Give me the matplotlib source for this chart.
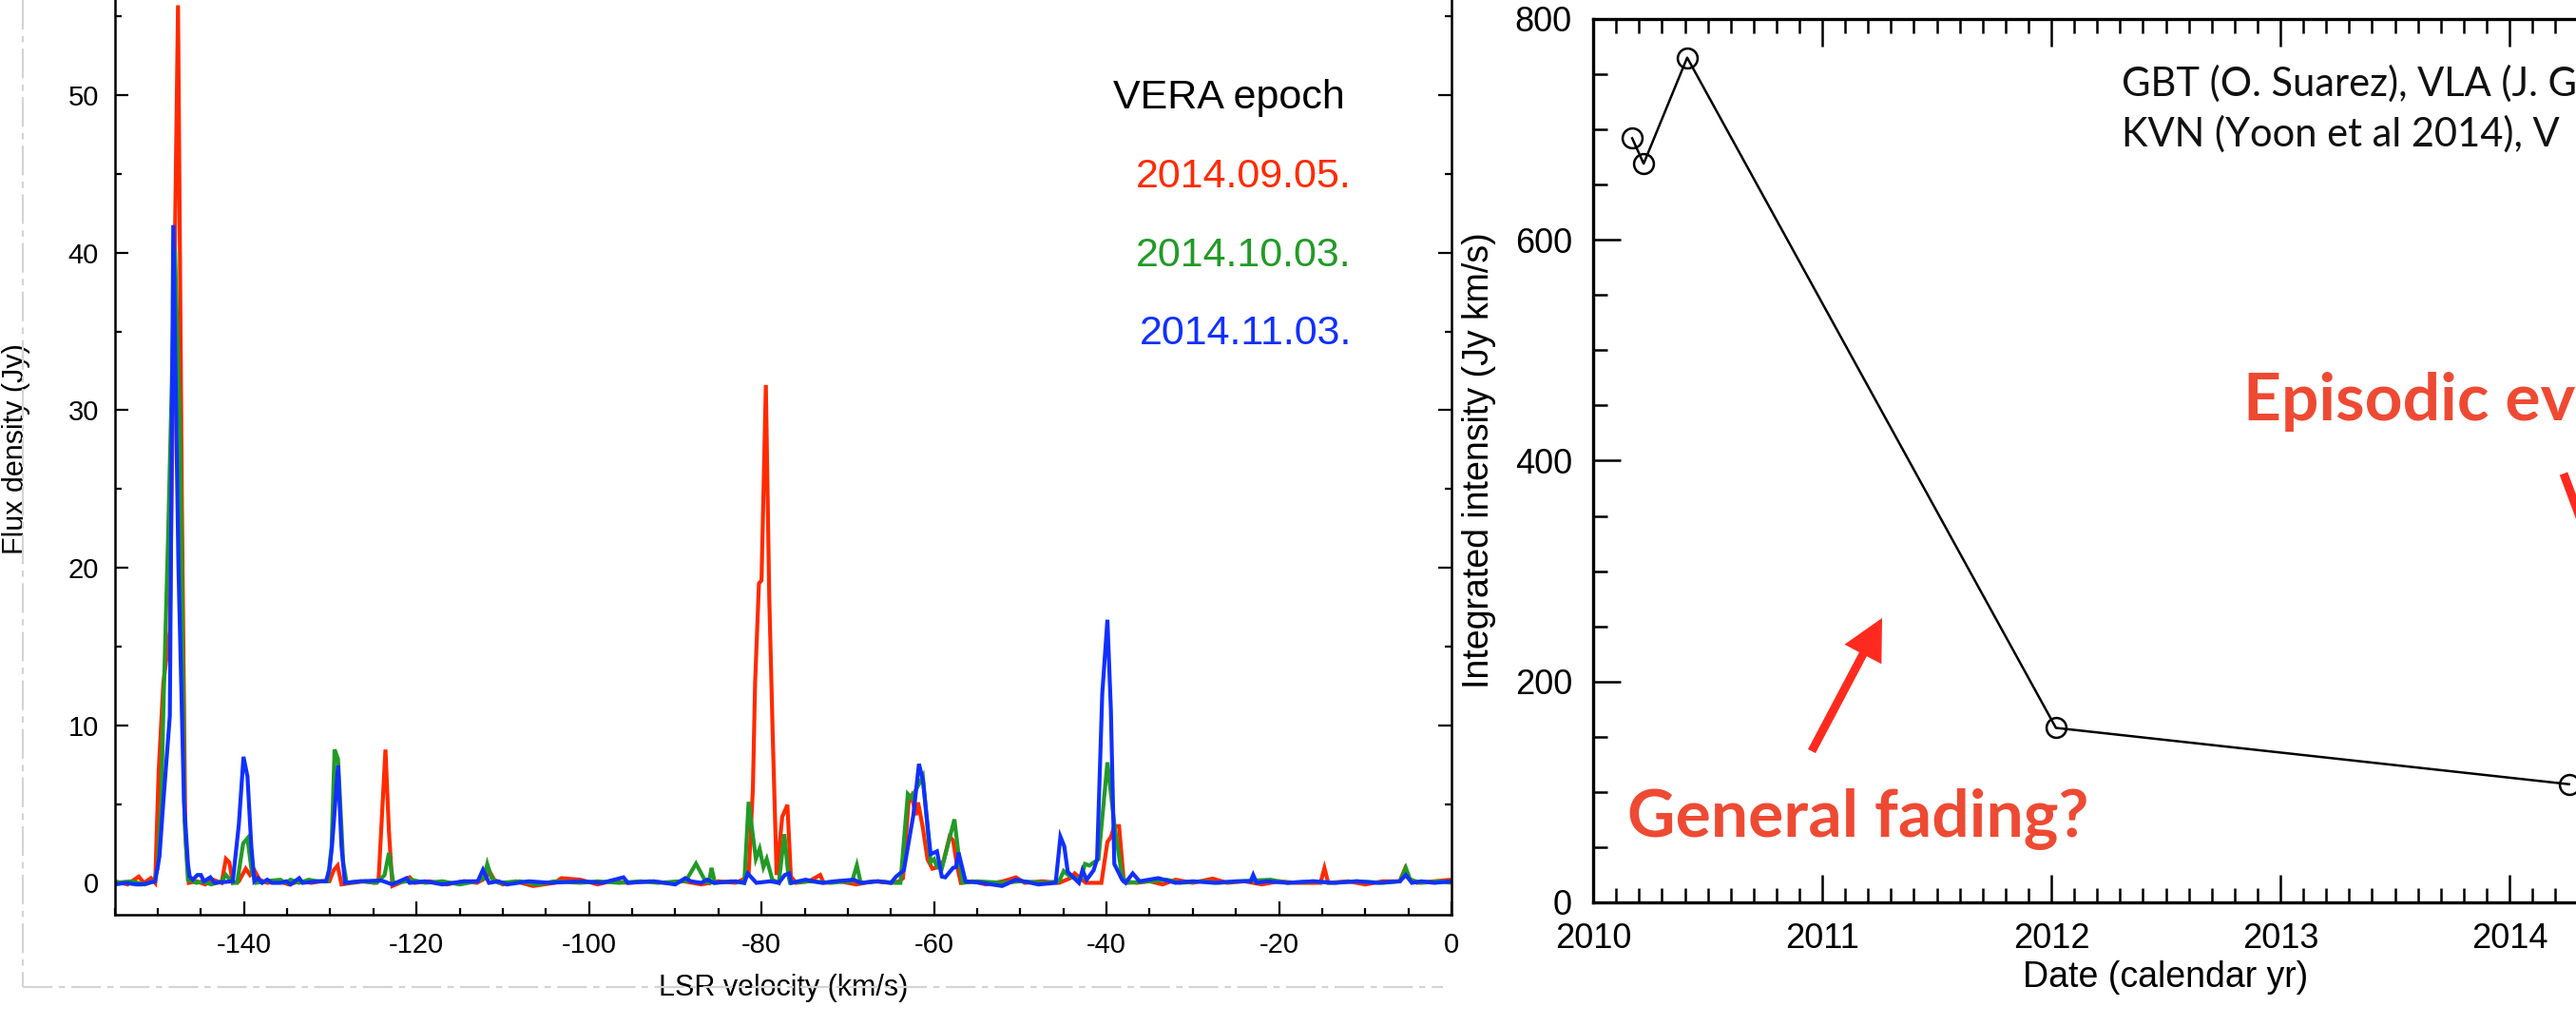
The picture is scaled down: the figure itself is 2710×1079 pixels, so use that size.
"""Water maser spectra (VERA) and integrated intensity history, two panels."""

import matplotlib

matplotlib.use("Agg")
import matplotlib.pyplot as plt
from matplotlib.lines import Line2D
from matplotlib.patches import FancyArrow
from matplotlib.ticker import MultipleLocator

plt.rcParams["font.family"] = ["Liberation Sans", "DejaVu Sans"]
plt.rcParams["axes.unicode_minus"] = False

# ---- left panel: spectra (LSR velocity km/s, flux density Jy) ----
VEL_RED = [-155.0, -153.5, -152.2, -151.6, -150.8, -150.3, -149.9, -149.6, -149.36, -148.6,
           -147.65, -147.2, -146.8, -146.4, -145.5, -144.5, -143.6, -142.6, -142.1, -141.7,
           -141.3, -140.6, -139.8, -139.3, -138.8, -138.2, -137.3, -136.0, -134.8, -133.5,
           -132.2, -131.0, -130.1, -129.6, -129.15, -128.7, -127.5, -126.0, -124.9, -124.4,
           -123.6, -123.2, -122.8, -121.5, -120.8, -120.2, -118.5, -116.5, -114.5, -113.0,
           -112.0, -111.5, -111.0, -110.0, -108.5, -106.5, -104.0, -103.2, -101.0, -99.0,
           -97.5, -95.5, -93.0, -91.0, -89.0, -87.0, -85.0, -83.0, -82.2, -81.5,
           -81.0, -80.75, -80.3, -80.0, -79.5, -79.1, -78.7, -78.25, -77.6, -77.0,
           -76.6, -76.0, -74.5, -73.2, -72.8, -71.0, -69.0, -67.0, -65.0, -64.0,
           -63.6, -62.96, -62.6, -62.1, -61.85, -61.3, -60.76, -60.2, -59.5, -58.9,
           -58.2, -57.8, -57.3, -56.9, -55.5, -54.0, -52.0, -50.5, -49.5, -47.5,
           -45.5, -44.2, -43.7, -42.4, -40.6, -39.9, -39.5, -39.1, -38.55, -38.0,
           -36.5, -35.0, -33.5, -32.0, -30.0, -27.7, -26.0, -24.0, -22.0, -20.0,
           -18.0, -15.2, -14.74, -14.3, -12.0, -10.0, -8.0, -6.0, -5.4, -5.0,
           -4.0, -2.0, 0.0]
FLUX_RED = [0.1, -0.1, 0.4, 0.0, 0.3, 0.0, 7.0, 10.2, 12.65, 16.0,
            55.7, 24.0, 3.0, 0.0, 0.1, -0.1, 0.2, 0.0, 1.52, 1.3,
            0.0, 0.1, 0.9, 0.5, 0.8, 0.2, 0.0, 0.1, -0.1, 0.1,
            0.0, 0.1, 0.1, 0.8, 1.1, -0.1, 0.0, 0.1, 0.0, 0.2,
            8.46, 3.3, -0.2, 0.1, 0.35, 0.0, 0.1, -0.1, 0.1, 0.0,
            0.3, 0.7, 0.2, -0.1, 0.1, -0.2, 0.0, 0.3, 0.2, -0.1,
            0.1, 0.0, 0.1, 0.0, 0.1, -0.1, 0.1, 0.0, 0.2, 0.5,
            6.0, 12.65, 19.0, 19.2, 31.6, 18.0, 9.3, 0.5, 4.2, 4.95,
            0.4, 0.0, 0.1, 0.5, 0.0, 0.1, -0.1, 0.1, 0.0, 0.1,
            0.3, 5.1, 5.5, 4.3, 5.1, 3.5, 1.5, 0.9, 1.0, 1.4,
            2.93, 2.7, 1.0, 0.0, 0.1, -0.1, 0.1, 0.35, 0.0, 0.1,
            0.0, 0.3, 0.6, 0.0, 0.0, 2.6, 2.9, 3.6, 3.6, 0.1,
            0.0, 0.1, -0.1, 0.2, 0.0, 0.27, 0.0, 0.1, -0.1, 0.1,
            0.0, 0.0, 0.94, 0.0, 0.1, -0.1, 0.1, 0.1, 0.9, 0.3,
            0.0, 0.1, 0.2]

VEL_GREEN = [-155.0, -153.0, -151.5, -150.4, -150.0, -149.6, -149.3, -148.8, -148.0, -147.4,
             -146.9, -146.5, -145.5, -144.8, -143.8, -142.6, -142.1, -141.3, -140.8, -140.1,
             -139.6, -139.1, -138.6, -137.5, -135.8, -135.2, -134.6, -133.6, -132.5, -131.5,
             -130.3, -129.85, -129.5, -129.1, -128.5, -128.1, -126.5, -124.6, -123.7, -123.2,
             -122.7, -121.0, -120.6, -119.0, -117.0, -115.0, -113.0, -112.2, -111.8, -111.3,
             -110.5, -108.0, -106.0, -104.0, -101.0, -99.0, -96.5, -94.0, -92.0, -89.5,
             -88.8, -87.6, -86.5, -86.1, -85.8, -85.4, -83.5, -82.0, -81.5, -81.0,
             -80.66, -80.22, -79.78, -79.4, -78.75, -78.0, -77.35, -76.9, -76.7, -74.5,
             -72.0, -70.0, -69.5, -68.95, -68.5, -66.5, -64.5, -63.9, -63.04, -62.6,
             -61.3, -60.4, -60.0, -59.66, -59.1, -57.64, -57.2, -56.7, -55.0, -52.0,
             -50.0, -47.0, -45.5, -44.97, -44.24, -43.0, -42.5, -42.0, -40.94, -39.9,
             -39.1, -38.2, -37.6, -35.0, -33.0, -31.5, -29.0, -27.0, -24.5, -21.0,
             -19.0, -16.0, -14.0, -11.0, -8.0, -6.0, -5.3, -4.8, -3.5, -1.5,
             0.0]
FLUX_GREEN = [0.0, 0.1, -0.1, 0.1, 1.0, 5.0, 12.0, 22.0, 40.2, 28.0,
              4.0, 0.2, 0.0, 0.1, -0.1, 0.1, 0.5, 0.0, 0.0, 2.5,
              2.83, 0.7, 0.0, 0.1, 0.2, 0.0, 0.2, 0.0, 0.2, 0.1,
              0.1, 2.3, 8.46, 7.85, 1.3, 0.0, 0.1, 0.0, 0.5, 1.9,
              0.0, 0.1, 0.2, 0.0, 0.1, -0.1, 0.1, 0.3, 1.2, 0.3,
              0.0, 0.1, -0.1, 0.1, 0.0, 0.1, 0.0, 0.1, 0.0, 0.1,
              0.1, 1.22, 0.1, 0.0, 0.95, 0.0, 0.1, 0.0, 5.14, 3.0,
              1.52, 2.16, 1.0, 1.52, 0.2, 0.0, 3.09, 0.5, 0.0, 0.1,
              0.0, 0.1, 0.1, 1.12, 0.0, 0.1, 0.0, 0.0, 5.64, 5.38,
              6.75, 1.32, 1.5, 1.0, 0.9, 4.03, 2.0, 0.0, 0.1, 0.0,
              0.1, 0.0, 0.1, 0.75, 0.41, 0.2, 1.2, 1.1, 1.5, 7.65,
              3.73, 0.4, 0.0, 0.1, 0.2, 0.0, 0.1, 0.0, 0.1, 0.2,
              0.0, 0.1, 0.0, 0.1, 0.0, 0.1, 0.95, 0.2, 0.0, 0.1,
              0.0]

VEL_BLUE = [-155.0, -153.7, -152.5, -151.8, -150.3, -149.8, -149.4, -148.6, -148.2, -147.6,
            -146.96, -146.5, -146.3, -145.94, -145.4, -145.0, -144.65, -143.9, -143.4, -141.3,
            -140.6, -140.06, -139.6, -139.15, -138.8, -138.4, -137.9, -137.3, -136.75, -135.7,
            -135.1, -134.6, -133.6, -133.2, -131.5, -130.5, -130.08, -129.8, -129.1, -128.7,
            -128.3, -126.5, -124.1, -122.8, -121.16, -120.8, -119.0, -117.0, -114.5, -112.9,
            -112.3, -111.6, -110.5, -109.5, -107.0, -104.5, -101.0, -98.5, -96.0, -95.5,
            -92.5, -90.0, -88.85, -88.2, -87.0, -86.3, -85.5, -83.0, -82.0, -81.6,
            -80.6, -79.0, -78.0, -77.3, -76.8, -76.55, -74.9, -73.0, -71.5, -69.3,
            -68.5, -66.5, -65.0, -64.4, -63.5, -62.4, -61.75, -61.3, -60.4, -59.66,
            -59.1, -58.7, -57.8, -57.45, -57.16, -56.35, -54.5, -52.1, -50.5, -47.9,
            -45.9, -45.35, -44.9, -44.5, -43.2, -42.8, -42.3, -41.5, -41.1, -40.5,
            -39.9, -39.5, -39.1, -38.2, -37.8, -36.97, -36.17, -34.0, -32.0, -30.0,
            -27.5, -25.0, -23.3, -23.0, -22.6, -21.5, -19.0, -16.0, -13.5, -11.0,
            -8.5, -6.0, -5.3, -4.6, -3.5, -2.0, 0.0]
FLUX_BLUE = [-0.1, 0.0, -0.1, -0.1, 0.1, 1.7, 4.8, 10.6, 41.75, 20.0,
             5.2, 1.2, 0.4, 0.2, 0.5, 0.5, 0.1, 0.35, 0.0, 0.1,
             3.7, 8.0, 6.75, 2.3, 0.1, 0.3, 0.0, 0.2, 0.0, 0.0,
             0.1, -0.1, 0.3, 0.0, 0.1, 0.1, 0.9, 2.3, 7.45, 2.3,
             0.0, 0.1, 0.15, -0.1, 0.3, 0.0, 0.1, -0.1, 0.1, 0.1,
             0.83, 0.0, 0.1, -0.1, 0.1, 0.0, 0.1, 0.0, 0.35, 0.0,
             0.1, -0.1, 0.3, 0.1, 0.0, 0.2, 0.0, 0.1, 0.0, 0.6,
             0.0, 0.1, 0.0, 0.5, 0.6, 0.0, 0.2, 0.0, 0.1, 0.2,
             0.0, 0.1, 0.0, 0.4, 0.8, 4.3, 7.55, 6.55, 1.82, 2.0,
             0.4, 0.35, 0.95, 1.0, 1.92, 0.1, 0.0, -0.2, 0.2, -0.1,
             0.0, 2.93, 2.32, 0.7, 0.0, 0.8, 0.2, 0.8, 1.5, 12.0,
             16.7, 11.0, 1.2, 0.2, 0.0, 0.6, 0.1, 0.3, 0.0, 0.1,
             0.0, 0.1, 0.1, 0.5, 0.0, 0.1, 0.0, 0.1, 0.0, 0.1,
             0.0, 0.1, 0.5, 0.0, 0.1, 0.0, 0.1]

EPOCHS = ["2014.09.05.", "2014.10.03.", "2014.11.03."]
EPOCH_COLORS = ["#ff2a00", "#229a26", "#1030ff"]

# ---- right panel: integrated intensity history ----
YEARS = [2010.17, 2010.22, 2010.41, 2012.02, 2014.26]
INTENSITY = [692, 669, 765, 158, 107]

W, H = 2710, 1079
fig = plt.figure(figsize=(W / 100, H / 100), dpi=100)

# left axes (top runs past the picture edge)
ax = fig.add_axes([0.0445, 0.1088, 0.5190, 0.9521])
for v, f, c in zip([VEL_RED, VEL_GREEN, VEL_BLUE], [FLUX_RED, FLUX_GREEN, FLUX_BLUE], EPOCH_COLORS):
    ax.plot(v, f, color=c, lw=3.0, solid_joinstyle="miter")
ax.set_xlim(-155, 0)
ax.set_ylim(-2, 60)
ax.xaxis.set_major_locator(MultipleLocator(20))
ax.xaxis.set_minor_locator(MultipleLocator(5))
ax.yaxis.set_major_locator(MultipleLocator(10))
ax.yaxis.set_minor_locator(MultipleLocator(5))
ax.set_yticks([0, 10, 20, 30, 40, 50])
ax.tick_params(which="both", direction="in", top=True, right=True, width=1.6)
ax.tick_params(which="major", length=10)
ax.tick_params(which="minor", length=5)
ax.tick_params(axis="y", labelsize=21, pad=12)
ax.tick_params(axis="x", labelsize=21, pad=13)
for s in ax.spines.values():
    s.set_linewidth(1.8)
ax.set_xlabel("LSR velocity (km/s)", fontsize=22)
ax.xaxis.label.set_va("center")
ax.xaxis.set_label_coords(0.5, -0.0749)
ax.set_ylabel("Flux density (Jy)", fontsize=22)
ax.yaxis.label.set_va("center")
ax.yaxis.set_label_coords(-0.0735, 0.4766)

fig.text(0.522, 0.8947, "VERA epoch", fontsize=31, ha="right", va="baseline", color="black")
for name, c, yb in zip(EPOCHS, EPOCH_COLORS, [0.8174, 0.7409, 0.6642]):
    fig.text(0.5247, yb, name, fontsize=31, ha="right", va="baseline", color=c)

# faint border of the pasted spectrum image
border = dict(color="#d4d4d4", lw=1.6, dashes=(14, 3, 3, 3))
fig.add_artist(Line2D([0.0089, 0.0089], [1.0, 0.0383], transform=fig.transFigure, **border))
fig.add_artist(Line2D([0.0089, 0.560], [0.0383, 0.0383], transform=fig.transFigure, **border))

# right axes (right side runs past the picture edge)
ax2 = fig.add_axes([0.6185, 0.1205, 0.4446, 0.8610])
ax2.plot(YEARS, INTENSITY, color="black", lw=1.8, marker="o", ms=15,
         mfc="none", mec="black", mew=1.8)
ax2.set_xlim(2010, 2015)
ax2.set_ylim(0, 800)
ax2.xaxis.set_major_locator(MultipleLocator(1))
ax2.xaxis.set_minor_locator(MultipleLocator(0.1))
ax2.yaxis.set_major_locator(MultipleLocator(200))
ax2.yaxis.set_minor_locator(MultipleLocator(50))
ax2.xaxis.set_major_formatter(plt.FuncFormatter(lambda x, _: f"{x:.0f}"))
ax2.tick_params(which="both", direction="in", top=True, right=True, width=1.8)
ax2.tick_params(which="major", length=21)
ax2.tick_params(which="minor", length=10.5)
ax2.tick_params(axis="y", labelsize=26, pad=16)
ax2.tick_params(axis="x", labelsize=26, pad=15)
for s in ax2.spines.values():
    s.set_linewidth(2.4)
ax2.set_xlabel("Date (calendar yr)", fontsize=27)
ax2.xaxis.label.set_va("center")
ax2.xaxis.set_label_coords(0.5, -0.085)
ax2.set_ylabel("Integrated intensity (Jy km/s)", fontsize=27)
ax2.yaxis.label.set_va("center")
ax2.yaxis.set_label_coords(-0.0996, 0.5)

note = dict(family=["Lato", "DejaVu Sans"], va="baseline", ha="left")
fig.text(0.8236, 0.9068, "GBT (O. Suarez), VLA (J. G", fontsize=30, weight="normal",
         color="#111111", **note)
fig.text(0.8236, 0.8573, "KVN (Yoon et al 2014), V", fontsize=30, weight="normal",
         color="#111111", **note)
fig.text(0.6317, 0.1844, "General fading?", fontsize=50, weight="bold", color="#ee4a33", **note)
fig.text(0.8708, 0.5904, "Episodic event?", fontsize=50, weight="bold", color="#ee4a33", **note)

arrow = dict(color="#ff2a1f", lw=0, length_includes_head=True, transform=fig.dpi_scale_trans)
fig.add_artist(FancyArrow(19.06, 2.89, 0.74, 1.40, width=0.09, head_width=0.44,
                          head_length=0.43, **arrow))
fig.add_artist(FancyArrow(26.97, 5.81, 0.52, -1.40, width=0.09, head_width=0.44,
                          head_length=0.43, **arrow))

fig.savefig("out.png", dpi=100)
